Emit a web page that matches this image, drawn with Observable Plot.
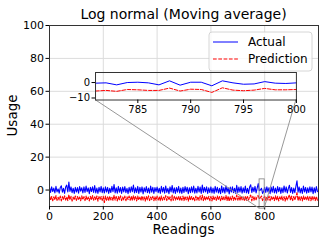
<!DOCTYPE html>
<html>
<head>
<meta charset="utf-8">
<script src="https://cdn.jsdelivr.net/npm/d3@7"></script>
<script src="https://cdn.jsdelivr.net/npm/@observablehq/plot@0.6"></script>
<style>
  html, body { margin: 0; padding: 0; background: white; }
  #wrap { position: relative; width: 326px; height: 244px; }
  #wrap svg text { font-family: "DejaVu Sans", sans-serif; }
</style>
</head>
<body>
<div id="wrap"></div>
<script>
// ---- data ----
const title = "Log normal (Moving average)";
const xLabel = "Readings";
const yLabel = "Usage";
const seriesNames = ["Actual", "Prediction"];
const step = 4; // one value read every 4 readings
const xTicks = [0, 200, 400, 600, 800];
const yTicks = [0, 20, 40, 60, 80, 100];
const xDomain = [0, 1000];
const yDomain = [-10, 100];

const actual = [
  1.6,-1.4,2.0,-0.9,1.2,-1.8,2.3,-1.1,0.7,-1.9,1.5,2.6,-1.3,1.0,-2.0,1.8,3.0,-1.2,4.8,-0.8,1.9,-1.6,1.1,-2.1,1.7,
  -1.2,1.5,-1.9,2.1,-0.7,1.4,-1.7,1.9,-1.5,2.4,-1.0,1.3,-2.2,1.6,-0.9,2.0,-1.4,2.7,-1.8,1.2,-2.0,1.7,-1.1,2.2,-1.6,
  1.3,-1.8,2.0,-1.2,1.6,-2.1,1.1,-1.5,2.3,-1.0,3.4,-1.7,1.4,-1.9,2.2,-1.3,1.5,-2.0,1.8,-1.1,2.1,-1.6,1.0,-2.2,1.7,
  -1.4,2.0,-1.0,3.0,-1.8,1.3,-1.5,2.2,-2.0,1.6,-1.2,1.9,-2.3,1.4,-1.1,2.1,-1.6,1.2,-1.9,2.4,-1.3,1.7,-2.1,1.5,-1.0,
  1.8,-1.6,1.1,-2.0,2.3,-1.2,1.6,-1.9,2.5,-1.4,1.0,-2.2,1.9,-1.1,2.8,-1.7,1.3,-2.0,1.5,-1.3,2.2,-1.8,1.2,-2.1,1.6,
  -1.5,2.1,-1.0,1.7,-2.2,1.4,-1.6,2.0,-1.3,2.4,-1.9,1.1,-1.7,2.3,-1.2,1.8,-2.0,3.1,-1.4,1.6,-1.1,2.0,-2.1,1.3,-1.5,
  1.9,-1.7,1.2,-2.0,2.2,-1.3,1.7,-1.8,1.0,-2.2,2.5,-1.4,1.5,-1.9,2.6,-1.1,1.4,-2.3,1.8,-1.2,2.0,-1.6,1.1,-2.0,2.9,
  -1.6,1.8,-1.2,2.1,-1.9,1.3,-1.4,2.4,-1.7,1.0,-2.1,1.9,3.2,-1.5,1.6,-1.0,2.2,-1.8,1.2,3.9,-0.4,0.0,1.1,-2.1,-0.9,
  1.7,-1.5,2.0,-1.1,1.4,-2.2,1.8,-1.3,2.3,-1.7,1.2,-1.9,2.1,-1.0,1.6,-2.0,1.3,-1.6,2.5,-1.2,1.9,-1.8,1.0,2.9,-1.4,
  1.5,-2.0,1.2,-1.6,2.2,5.6,-1.3,1.9,-1.7,1.1,-2.1,2.4,-1.2,1.6,-1.9,1.3,-1.5,2.0,-1.1,1.8,-2.2,1.4,-1.6,2.1,-1.0
];
const prediction = [
  -3.6,-6.2,-3.9,-6.5,-4.1,-5.9,-3.4,-6.3,-4.4,-6.0,-3.7,-6.6,-4.0,-5.8,-3.5,-6.1,-4.2,-6.4,-2.8,-6.0,-3.8,-6.7,-4.3,-5.9,-3.6,
  -6.3,-3.9,-6.0,-4.2,-6.5,-3.5,-5.8,-4.0,-6.4,-3.7,-6.1,-4.3,-6.6,-3.8,-5.9,-3.4,-6.2,-4.1,-6.0,-3.6,-6.8,-4.0,-5.7,-3.9,-6.3,
  -3.8,-7.6,-3.6,-6.2,-4.1,-6.5,-3.7,-6.0,-4.4,-6.3,-3.2,-6.1,-3.9,-6.6,-4.0,-5.9,-3.5,-6.4,-4.2,-6.0,-3.7,-6.5,-4.1,-5.8,-3.6,
  -6.2,-3.8,-6.4,-3.3,-6.0,-4.0,-6.6,-3.7,-5.9,-4.3,-6.3,-3.6,-6.1,-4.1,-6.7,-3.9,-6.0,-3.5,-6.4,-4.2,-5.8,-3.8,-6.5,-4.0,-6.2,
  -3.7,-6.1,-4.0,-6.5,-3.6,-6.2,-4.3,-5.9,-3.4,-6.4,-3.9,-6.0,-4.1,-6.6,-3.0,-6.3,-3.8,-6.1,-4.2,-5.8,-3.6,-6.5,-4.0,-6.2,-3.7,
  -6.4,-3.8,-6.0,-4.1,-6.7,-3.6,-6.2,-3.9,-5.9,-4.3,-6.5,-3.7,-6.1,-4.0,-6.3,-3.5,-6.0,-3.1,-6.4,-3.9,-6.2,-4.2,-5.8,-3.8,-6.5,
  -3.9,-6.6,-3.7,-6.1,-4.2,-6.3,-3.6,-6.0,-4.0,-6.5,-3.8,-6.2,-4.1,-5.9,-3.3,-6.4,-3.7,-6.8,-4.0,-6.1,-3.6,-6.3,-4.2,-6.0,-3.0,
  -6.2,-3.8,-6.4,-3.7,-6.0,-4.1,-6.5,-3.6,-6.3,-3.9,-6.1,-4.0,-3.1,-6.6,-3.8,-6.2,-4.2,-5.9,-3.7,-3.4,-5.5,-4.5,-3.6,-6.4,-4.9,
  -3.8,-6.3,-4.0,-6.1,-3.6,-6.5,-3.9,-6.0,-4.2,-6.4,-3.5,-6.2,-3.8,-6.6,-4.1,-5.9,-3.7,-6.3,-4.0,-6.7,-3.9,-6.1,-4.3,-3.0,-6.2,
  -3.7,-6.4,-3.9,-6.0,-4.1,-1.6,-6.5,-3.8,-6.2,-4.0,-6.6,-3.6,-6.1,-4.2,-5.9,-3.7,-6.3,-4.0,-6.5,-3.8,-6.0,-4.1,-6.4,-3.9,-6.2
];

// inset (zoomed) data
const insetReadings = [781,782,783,784,785,786,787,788,789,790,791,792,793,794,795,796,797,798,799,800];
const insetActual = [-0.4,-0.2,-1.5,0.0,0.2,-0.2,-1.5,1.1,-1.7,0.2,0.2,-2.1,1.1,-0.2,-1.1,-0.9,0.6,-0.4,-0.6,-0.2];
const insetPrediction = [-5.5,-5.1,-5.7,-4.5,-4.7,-5.1,-5.1,-3.6,-5.5,-4.3,-4.5,-6.4,-3.4,-4.9,-5.3,-4.9,-3.8,-4.7,-4.7,-4.5];
const insetXDomain = [781, 800];
const insetYDomain = [-11.3, 6.5];
const insetXTicks = [785, 790, 795, 800];
const insetYTicks = [0, -10];
// inset placement in axes fractions: [left, bottom, width, height]
const insetBounds = [0.171, 0.588, 0.747, 0.152];

// ---- build ----
const actualRows = actual.map((v, i) => ({reading: i * step, value: v}));
const predRows = prediction.map((v, i) => ({reading: i * step, value: v}));
const insetActualRows = insetReadings.map((r, i) => ({reading: r, value: insetActual[i]}));
const insetPredRows = insetReadings.map((r, i) => ({reading: r, value: insetPrediction[i]}));

const dash = "3.7,1.6";
const gridColor = "#dcdcdc";
const frameColor = "#333";
const connColor = "#8c8c8c";
const minus = d => d < 0 ? "\u2212" + Math.abs(d) : String(d);

const W = 326, H = 244;
const mL = 49, mR = 8, mT = 25, mB = 38;

const main = Plot.plot({
  width: W, height: H,
  marginLeft: mL, marginRight: mR, marginTop: mT, marginBottom: mB,
  style: {fontFamily: "DejaVu Sans", fontSize: "11px", background: "white", color: "black"},
  x: {domain: xDomain},
  y: {domain: yDomain},
  marks: [
    Plot.gridX(xTicks, {stroke: gridColor, strokeOpacity: 1}),
    Plot.gridY(yTicks, {stroke: gridColor, strokeOpacity: 1}),
    Plot.line(actualRows, {x: "reading", y: "value", stroke: "blue", strokeWidth: 1.1}),
    Plot.line(predRows, {x: "reading", y: "value", stroke: "red", strokeWidth: 1.1, strokeDasharray: dash}),
    Plot.rect([{x1: insetXDomain[0], x2: insetXDomain[1], y1: insetYDomain[0], y2: insetYDomain[1]}],
      {x1: "x1", x2: "x2", y1: "y1", y2: "y2", fill: "none", stroke: connColor, strokeWidth: 0.9}),
    Plot.frame({stroke: frameColor, strokeWidth: 1}),
    Plot.axisX(xTicks, {tickSize: 3.5, tickPadding: 2, label: null, fontSize: 11}),
    Plot.axisY(yTicks, {tickSize: 3.5, tickPadding: 2, label: null, fontSize: 11, tickFormat: minus})
  ]
});

const wrap = document.getElementById("wrap");
wrap.appendChild(main);
const svg = d3.select(main);

const xs = main.scale("x"), ys = main.scale("y");
const [X0, X1] = xs.range;
const [Y1, Y0] = ys.range; // Y1 bottom, Y0 top
const ix = X0 + insetBounds[0] * (X1 - X0);
const iw = insetBounds[2] * (X1 - X0);
const ih = insetBounds[3] * (Y1 - Y0);
const iyB = Y1 - insetBounds[1] * (Y1 - Y0);
const iy = iyB - ih;

// connectors (inset lower corners -> zoom box lower corners)
const conn = svg.append("g").attr("stroke", connColor).attr("stroke-width", 0.9);
conn.append("line")
  .attr("x1", ix).attr("y1", iyB)
  .attr("x2", xs.apply(insetXDomain[0])).attr("y2", ys.apply(insetYDomain[0]));
conn.append("line")
  .attr("x1", ix + iw).attr("y1", iyB)
  .attr("x2", xs.apply(insetXDomain[1])).attr("y2", ys.apply(insetYDomain[0]));

// titles
const cx = (X0 + X1) / 2;
svg.append("text").attr("x", cx).attr("y", 19).attr("text-anchor", "middle")
  .attr("font-size", 14).attr("fill", "black").text(title);
svg.append("text").attr("x", cx).attr("y", 234).attr("text-anchor", "middle")
  .attr("font-size", 13.5).attr("fill", "black").text(xLabel);
svg.append("text").attr("transform", `translate(17,${(Y0 + Y1) / 2}) rotate(-90)`)
  .attr("text-anchor", "middle").attr("font-size", 13.5).attr("fill", "black").text(yLabel);

// legend
const lg = svg.append("g");
lg.append("rect").attr("x", 209).attr("y", 32).attr("width", 103).attr("height", 39).attr("rx", 3)
  .attr("fill", "white").attr("fill-opacity", 0.8).attr("stroke", "#cccccc").attr("stroke-width", 0.8);
const entries = [{name: seriesNames[0], color: "blue", dash: null, y: 42},
                 {name: seriesNames[1], color: "red", dash: dash, y: 59}];
for (const e of entries) {
  lg.append("line").attr("x1", 213).attr("x2", 238).attr("y1", e.y).attr("y2", e.y)
    .attr("stroke", e.color).attr("stroke-width", 1).attr("stroke-dasharray", e.dash);
  lg.append("text").attr("x", 248).attr("y", e.y + 4.3).attr("text-anchor", "start")
    .attr("font-size", 12).attr("fill", "black").text(e.name);
}

// inset plot
const iML = 30, iMR = 2, iMT = 1, iMB = 16;
const inset = Plot.plot({
  width: iw + iML + iMR, height: ih + iMT + iMB,
  marginLeft: iML, marginRight: iMR, marginTop: iMT, marginBottom: iMB,
  style: {fontFamily: "DejaVu Sans", fontSize: "10px", background: "transparent", color: "black", overflow: "visible"},
  x: {domain: insetXDomain},
  y: {domain: insetYDomain},
  marks: [
    Plot.line(insetActualRows, {x: "reading", y: "value", stroke: "blue", strokeWidth: 1}),
    Plot.line(insetPredRows, {x: "reading", y: "value", stroke: "red", strokeWidth: 1, strokeDasharray: dash}),
    Plot.frame({stroke: frameColor, strokeWidth: 1}),
    Plot.axisX(insetXTicks, {tickSize: 3.5, tickPadding: 2, label: null, fontSize: 10}),
    Plot.axisY(insetYTicks, {tickSize: 3.5, tickPadding: 2, label: null, fontSize: 10, tickFormat: minus})
  ]
});
inset.style.position = "absolute";
inset.style.left = (ix - iML) + "px";
inset.style.top = (iy - iMT) + "px";
inset.style.maxWidth = "none";
inset.style.overflow = "visible";
wrap.appendChild(inset);
</script>
</body>
</html>
